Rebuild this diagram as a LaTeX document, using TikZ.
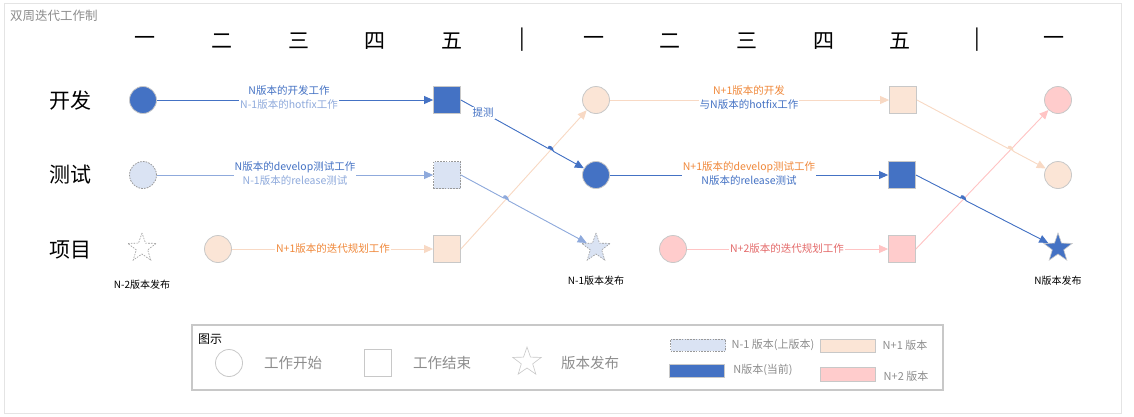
\documentclass[tikz,border=0pt]{standalone}
\usepackage{fontspec}
\setmainfont{Noto Sans CJK SC}
\usetikzlibrary{arrows.meta,shapes.geometric,intersections,calc}
\definecolor{cblue}{HTML}{4472C4}
\definecolor{clblue}{HTML}{DAE3F3}
\definecolor{cllblue}{HTML}{8FAADC}
\definecolor{corange}{HTML}{FBE5D6}
\definecolor{corangeline}{HTML}{F8D9C4}
\definecolor{corangetext}{HTML}{F0883A}
\definecolor{cpink}{HTML}{FFCCCC}
\definecolor{cpinkline}{HTML}{FFC4C4}
\definecolor{cpinktext}{HTML}{E46A6A}
\definecolor{cborder}{HTML}{C8C8C8}
\definecolor{cdash}{HTML}{999999}
\definecolor{cframe}{HTML}{E4E4E4}
\definecolor{clegtext}{HTML}{8C8C8C}
\tikzset{
  circ/.style={circle, minimum size=27pt, inner sep=0pt, line width=0.8pt},
  sqr/.style={rectangle, minimum size=27pt, inner sep=0pt, line width=0.8pt},
  strs/.style={star, star points=5, star point ratio=2.5, minimum size=30pt, inner sep=0pt, line width=0.6pt},
  solidb/.style={draw=cborder},
  dashb/.style={draw=cdash, dash pattern=on 1.6pt off 1.2pt},
  day/.style={font=\fontsize{21}{24}\selectfont, inner sep=0pt},
  rowlab/.style={font=\fontsize{21}{24}\selectfont, inner sep=0pt},
  elab/.style={font=\fontsize{10.5}{14}\selectfont, fill=white, inner sep=1pt, align=center},
  rel/.style={font=\fontsize{10}{12}\selectfont, inner sep=0pt},
  arr/.style={line width=0.9pt, -{Triangle[length=9pt,width=8pt]}},
  bl/.style={arr, draw=cblue, fill=cblue},
  lbl/.style={arr, draw=cllblue, fill=cllblue},
  ol/.style={arr, draw=corangeline, fill=corangeline},
  pl/.style={arr, draw=cpinkline, fill=cpinkline},
  legtxt/.style={font=\fontsize{14.5}{16}\selectfont, text=clegtext, inner sep=0pt},
  legsm/.style={font=\fontsize{11}{13}\selectfont, text=clegtext, inner sep=0pt},
  legrect/.style={rectangle, minimum width=55pt, minimum height=13pt, inner sep=0pt, line width=0.8pt},
}
\begin{document}
\begin{tikzpicture}[x=1pt, y=-1pt]
\useasboundingbox (0,0) rectangle (1134,416);
\draw[cframe, line width=1pt] (4,3) rectangle (1121,413);
\node[anchor=west, inner sep=0pt, text=clegtext, font=\fontsize{12.5}{14}\selectfont] (title) at (10,16) {双周迭代工作制};
% day headers
\node[day] (d1) at (145,41) {一};
\node[day] (d2) at (222,41) {二};
\node[day] (d3) at (299,41) {三};
\node[day] (d4) at (375,41) {四};
\node[day] (d5) at (452,41) {五};
\node[day] (s1) at (522,40) {|};
\node[day] (e1) at (594,41) {一};
\node[day] (e2) at (670,41) {二};
\node[day] (e3) at (747,41) {三};
\node[day] (e4) at (824,41) {四};
\node[day] (e5) at (900,41) {五};
\node[day] (s2) at (977,40) {|};
\node[day] (f1) at (1054,41) {一};
% row labels
\node[rowlab] (r1) at (70,101) {开发};
\node[rowlab] (r2) at (70,175) {测试};
\node[rowlab] (r3) at (70,250) {项目};
% nodes
\node[circ, fill=cblue, solidb] (dc1) at (143,100) {};
\node[sqr, fill=cblue, solidb] (dsq1) at (447,100) {};
\node[circ, fill=corange, solidb] (dc2) at (596,100) {};
\node[sqr, fill=corange, solidb] (dsq2) at (903,100) {};
\node[circ, fill=cpink, solidb] (dc3) at (1058,100) {};
\node[circ, fill=clblue, dashb] (tc1) at (143,175) {};
\node[sqr, fill=clblue, dashb] (tsq1) at (447,175) {};
\node[circ, fill=cblue, solidb] (tc2) at (596,175) {};
\node[sqr, fill=cblue, solidb] (tsq2) at (902,175) {};
\node[circ, fill=corange, solidb] (tc3) at (1058,175) {};
\node[strs, fill=white, dashb] (ps1) at (142,248) {};
\node[circ, fill=corange, solidb] (pc1) at (218,249) {};
\node[sqr, fill=corange, solidb] (psq1) at (447,249) {};
\node[strs, fill=clblue, dashb] (ps2) at (596,248) {};
\node[circ, fill=cpink, solidb] (pc2) at (673,249) {};
\node[sqr, fill=cpink, solidb] (psq2) at (902,249) {};
\node[strs, fill=cblue, solidb] (ps3) at (1058,248) {};
% release labels
\node[rel] (rl1) at (142,285) {N-2版本发布};
\node[rel] (rl2) at (596,281) {N-1版本发布};
\node[rel] (rl3) at (1058,281) {N版本发布};
% straight connectors
\draw[bl] (dc1) -- (dsq1);
\draw[lbl] (tc1) -- (tsq1);
\draw[ol] (pc1) -- (psq1);
\draw[ol] (dc2) -- (dsq2);
\draw[bl] (tc2) -- (tsq2);
\draw[pl] (pc2) -- (psq2);
% rising connectors
\draw[ol, name path=up1] (psq1.east) -- (dc2);
\draw[pl, name path=up2] (psq2.east) -- (dc3);
% falling connectors with hops
\path[name path=dn1] (dsq1.east) -- (tc2);
\path[name path=dn2] (tsq1.east) -- (ps2);
\path[name path=dn3] (dsq2.east) -- (tc3);
\path[name path=dn4] (tsq2.east) -- (ps3);
\path[name intersections={of=dn1 and up1, by=h1}];
\path[name intersections={of=dn2 and up1, by=h2}];
\path[name intersections={of=dn3 and up2, by=h3}];
\path[name intersections={of=dn4 and up2, by=h4}];
\coordinate (h1a) at ($(h1)!3pt!(dsq1.east)$);
\coordinate (h1b) at ($(h1)!3pt!(tc2)$);
\coordinate (h2a) at ($(h2)!3pt!(tsq1.east)$);
\coordinate (h2b) at ($(h2)!3pt!(ps2)$);
\coordinate (h3a) at ($(h3)!3pt!(dsq2.east)$);
\coordinate (h3b) at ($(h3)!3pt!(tc3)$);
\coordinate (h4a) at ($(h4)!3pt!(tsq2.east)$);
\coordinate (h4b) at ($(h4)!3pt!(ps3)$);
\draw[bl] (dsq1.east) -- (h1a) .. controls ($(h1a)+(0,-4.5)$) and ($(h1b)+(0,-4.5)$) .. (h1b) -- (tc2);
\draw[lbl] (tsq1.east) -- (h2a) .. controls ($(h2a)+(0,-4.5)$) and ($(h2b)+(0,-4.5)$) .. (h2b) -- (ps2);
\draw[ol] (dsq2.east) -- (h3a) .. controls ($(h3a)+(0,-4.5)$) and ($(h3b)+(0,-4.5)$) .. (h3b) -- (tc3);
\draw[bl] (tsq2.east) -- (h4a) .. controls ($(h4a)+(0,-4.5)$) and ($(h4b)+(0,-4.5)$) .. (h4b) -- (ps3);
% edge labels
\node[elab] (l1) at (289,98) {\textcolor{cblue}{N版本的开发工作}\\\textcolor{cllblue}{N-1版本的hotfix工作}};
\node[elab] (l2) at (295,174) {\textcolor{cblue}{N版本的develop测试工作}\\\textcolor{cllblue}{N-1版本的release测试}};
\node[elab, text=corangetext] (l3) at (333,249) {N+1版本的迭代规划工作};
\node[elab, text=cblue] (l4) at (483,113) {提测};
\node[elab] (l5) at (749,98) {\textcolor{corangetext}{N+1版本的开发}\\\textcolor{cblue}{与N版本的hotfix工作}};
\node[elab] (l6) at (749,174) {\textcolor{corangetext}{N+1版本的develop测试工作}\\\textcolor{cblue}{N版本的release测试}};
\node[elab, text=cpinktext] (l7) at (787,249) {N+2版本的迭代规划工作};
% legend
\draw[cborder, line width=1.2pt] (192,325) rectangle (943,390);
\node[inner sep=0pt, font=\fontsize{12}{14}\selectfont] (lgt) at (210,339) {图示};
\node[circ, fill=white, draw=cborder] (lg1) at (229,363) {};
\node[legtxt] (lg1t) at (293,363) {工作开始};
\node[sqr, fill=white, draw=cborder] (lg2) at (378,363) {};
\node[legtxt] (lg2t) at (442,363) {工作结束};
\node[strs, fill=white, draw=cborder] (lg3) at (527,362) {};
\node[legtxt] (lg3t) at (590,363) {版本发布};
\node[legrect, fill=clblue, dashb, minimum height=12pt] (lr1) at (698,345) {};
\node[legsm] (lr1t) at (773,345) {N-1 版本(上版本)};
\node[legrect, fill=corange, solidb] (lr2) at (848,346) {};
\node[legsm] (lr2t) at (905,345) {N+1 版本};
\node[legrect, fill=cblue, solidb] (lr3) at (697,371) {};
\node[legsm] (lr3t) at (763,370) {N版本(当前)};
\node[legrect, fill=cpink, solidb, minimum height=14pt] (lr4) at (848,374) {};
\node[legsm] (lr4t) at (906,376) {N+2 版本};
\end{tikzpicture}
\end{document}
